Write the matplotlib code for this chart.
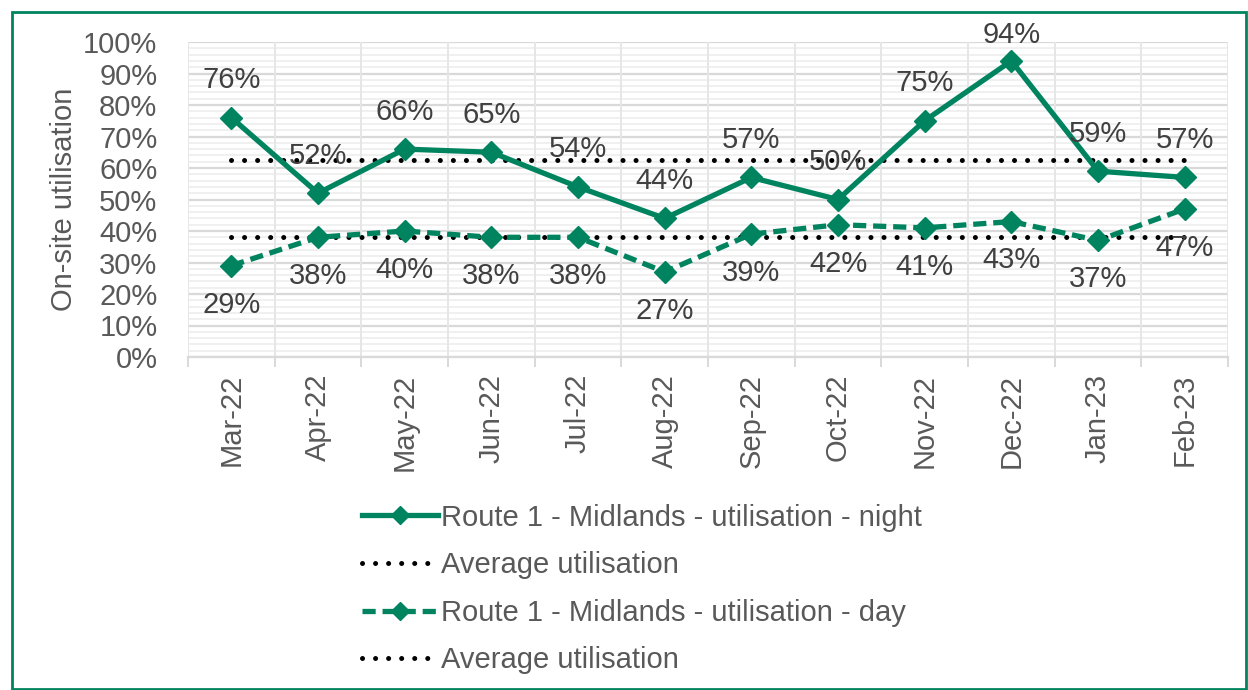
import matplotlib
matplotlib.use("Agg")
import matplotlib.pyplot as plt
from matplotlib.lines import Line2D
from matplotlib.patches import Rectangle
import numpy as np

months = ["Mar-22", "Apr-22", "May-22", "Jun-22", "Jul-22", "Aug-22",
          "Sep-22", "Oct-22", "Nov-22", "Dec-22", "Jan-23", "Feb-23"]
night = [76, 52, 66, 65, 54, 44, 57, 50, 75, 94, 59, 57]
day = [29, 38, 40, 38, 38, 27, 39, 42, 41, 43, 37, 47]
y_ticks = [0, 10, 20, 30, 40, 50, 60, 70, 80, 90, 100]

GREEN = "#00845F"
TXT = "#595959"
LBL = "#404040"

plt.rcParams['font.family'] = ['Liberation Sans', 'DejaVu Sans']
FS = 21

fig = plt.figure(figsize=(12.48, 6.9), dpi=100)
W, H = 1248, 690
ax = fig.add_axes([188 / W, 1 - 357 / H, (1228 - 188) / W, (357 - 42) / H])

x = np.arange(len(months))
night_avg = np.mean(night)
day_avg = np.mean(day)

# grid: light minor lines every 2%, stronger majors every 10%
for v in range(0, 101, 2):
    major = v % 10 == 0
    ax.axhline(v, color="#D9D9D9" if major else "#EDEDED",
               lw=1.6 if major else 1.2, zorder=0)
for b in np.arange(-0.5, len(months), 1.0):
    ax.axvline(b, color="#E6E6E6", lw=1.4, zorder=0)

dot_style = dict(color="black", lw=3.6, linestyle=(0, (0.01, 2.6)),
                 dash_capstyle="round", zorder=2)
ax.plot(x, [night_avg] * len(x), **dot_style)
ax.plot(x, [day_avg] * len(x), **dot_style)

ax.plot(x, night, color=GREEN, lw=3.8, marker="D", ms=11, zorder=3)
ax.plot(x, day, color=GREEN, lw=3.8, marker="D", ms=11,
        linestyle=(0, (2.5, 1.3)), zorder=3)

# labels above night points, kept inside the chart area near the top
plot_h_pt = 315 * 72 / 100
for xi, v in zip(x, night):
    off = min(27, (100 - v) / 100 * plot_h_pt + 5)
    ax.annotate(f"{v}%", (xi, v), xytext=(0, off), textcoords="offset points",
                ha="center", va="center", fontsize=FS, color=LBL, zorder=4)
for xi, v in zip(x, day):
    ax.annotate(f"{v}%", (xi, v), xytext=(0, -28), textcoords="offset points",
                ha="center", va="center", fontsize=FS, color=LBL, zorder=4)

ax.set_xlim(-0.5, len(months) - 0.5)
ax.set_ylim(0, 100)
ax.set_yticks(y_ticks)
ax.set_yticklabels([f"{t}%" for t in y_ticks])
ax.set_xticks(x)
ax.set_xticklabels(months, rotation=90)
ax.set_xticks(np.arange(-0.5, len(months), 1.0), minor=True)
ax.tick_params(axis="x", which="major", length=0, pad=12, labelsize=FS, labelcolor=TXT)
ax.tick_params(axis="x", which="minor", length=7, color="#D9D9D9", width=1.4)
ax.tick_params(axis="y", length=0, pad=22, labelsize=FS, labelcolor=TXT)
for s in ["top", "right", "left"]:
    ax.spines[s].set_visible(False)
ax.spines["bottom"].set_color("#D9D9D9")
ax.spines["bottom"].set_linewidth(1.6)
ax.set_ylabel("On-site utilisation", fontsize=FS, color=TXT, labelpad=4)

handles = [
    Line2D([], [], color=GREEN, lw=3.8, marker="D", ms=9),
    Line2D([], [], **dot_style),
    Line2D([], [], color=GREEN, lw=3.8, marker="D", ms=9, linestyle=(0, (2.5, 1.3))),
    Line2D([], [], **dot_style),
]
labels = ["Route 1 - Midlands - utilisation - night", "Average utilisation",
          "Route 1 - Midlands - utilisation - day", "Average utilisation"]
leg = fig.legend(handles, labels, loc="upper left",
                 bbox_to_anchor=(350 / W, 1 - 492 / H), frameon=False,
                 fontsize=FS, handlelength=2.6, handletextpad=0.12,
                 labelspacing=0.67, borderaxespad=0)
for t in leg.get_texts():
    t.set_color(TXT)

fig.patches.append(Rectangle((12 / W, 1 / H), (1246 - 12) / W, (677) / H,
                             transform=fig.transFigure, fill=False,
                             edgecolor=GREEN, lw=2))

fig.savefig("out.png", dpi=100)
